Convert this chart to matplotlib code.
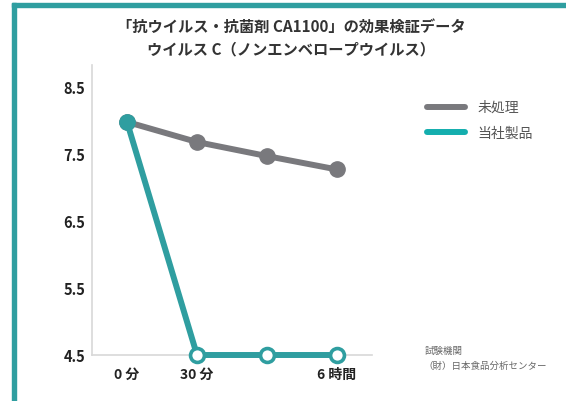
import matplotlib
matplotlib.use("Agg")
import matplotlib.pyplot as plt
from matplotlib.lines import Line2D
from matplotlib.patches import Rectangle

plt.rcParams["font.family"] = ["Noto Sans CJK JP", "DejaVu Sans"]

# ── Data ───────────────────────────────────────────────────────────────────────
x_pos       = [0, 1, 2, 3]
tick_labels = ["0 分", "30 分", "", "6 時間"]
untreated   = [7.98, 7.68, 7.47, 7.27]
product     = [7.98, 4.5, 4.5, 4.5]
y_ticks     = [4.5, 5.5, 6.5, 7.5, 8.5]

TEAL = "#2f9ea0"
GREY = "#79797d"

fig = plt.figure(figsize=(5.66, 4.01), dpi=100)

# teal frame (top + left)
fig.patches.append(Rectangle((12 / 566, 1 - 7 / 401), 1, 4 / 401,
                             transform=fig.transFigure, color=TEAL, zorder=0))
fig.patches.append(Rectangle((12 / 566, 0), 4 / 566, 1 - 3 / 401,
                             transform=fig.transFigure, color=TEAL, zorder=0))

ax = fig.add_axes([92 / 566, 1 - 355 / 401, 280 / 566, 290 / 401])

ax.plot(x_pos, untreated, color=GREY, linewidth=4.3, marker="o",
        markersize=11, solid_capstyle="round", clip_on=False, zorder=3)
ax.plot(x_pos, product, color=TEAL, linewidth=4.3, solid_capstyle="round",
        clip_on=False, zorder=4)
ax.plot(x_pos[:1], product[:1], color=TEAL, marker="o", markersize=11,
        linestyle="none", clip_on=False, zorder=5)
ax.plot(x_pos[1:], product[1:], color=TEAL, marker="o", markersize=10,
        markerfacecolor="white", markeredgewidth=2.6, linestyle="none",
        clip_on=False, zorder=5)

ax.set_xlim(-0.5, 3.5)
ax.set_ylim(4.5, 8.83)
ax.set_xticks(x_pos)
ax.set_xticklabels(tick_labels, fontsize=10, fontweight="bold", color="#222222")
ax.set_yticks(y_ticks)
ax.set_yticklabels([f"{v:.1f}" for v in y_ticks], fontsize=10.5,
                   fontweight="bold", color="#222222")
ax.tick_params(length=0, pad=9)
ax.tick_params(axis="y", pad=5)
for side in ("top", "right"):
    ax.spines[side].set_visible(False)
for side in ("left", "bottom"):
    ax.spines[side].set_color("#d8d8d8")
    ax.spines[side].set_linewidth(1.2)

# titles
fig.text(291 / 566, 1 - 27 / 401, "「抗ウイルス・抗菌剤 CA1100」の効果検証データ",
         ha="center", va="center", fontsize=11, fontweight="bold", color="#333333")
fig.text(291 / 566, 1 - 49 / 401, "ウイルス C（ノンエンベロープウイルス）",
         ha="center", va="center", fontsize=11, fontweight="bold", color="#333333")

# legend
handles = [Line2D([], [], color=GREY, linewidth=4.3, solid_capstyle="round"),
           Line2D([], [], color="#14aeae", linewidth=4.3, solid_capstyle="round")]
fig.legend(handles, ["未処理", "当社製品"], loc="upper left",
           bbox_to_anchor=(414 / 566, 1 - 88 / 401), frameon=False,
           handlelength=2.8, handletextpad=0.9, labelspacing=0.85,
           prop={"size": 10}, labelcolor="#555555")

# source note
fig.text(425 / 566, 1 - 351 / 401, "試験機関", fontsize=6.8, color="#666666",
         va="center")
fig.text(423 / 566, 1 - 366 / 401, "（財）日本食品分析センター", fontsize=6.8,
         color="#666666", va="center")

fig.savefig("out.png", dpi=100)
